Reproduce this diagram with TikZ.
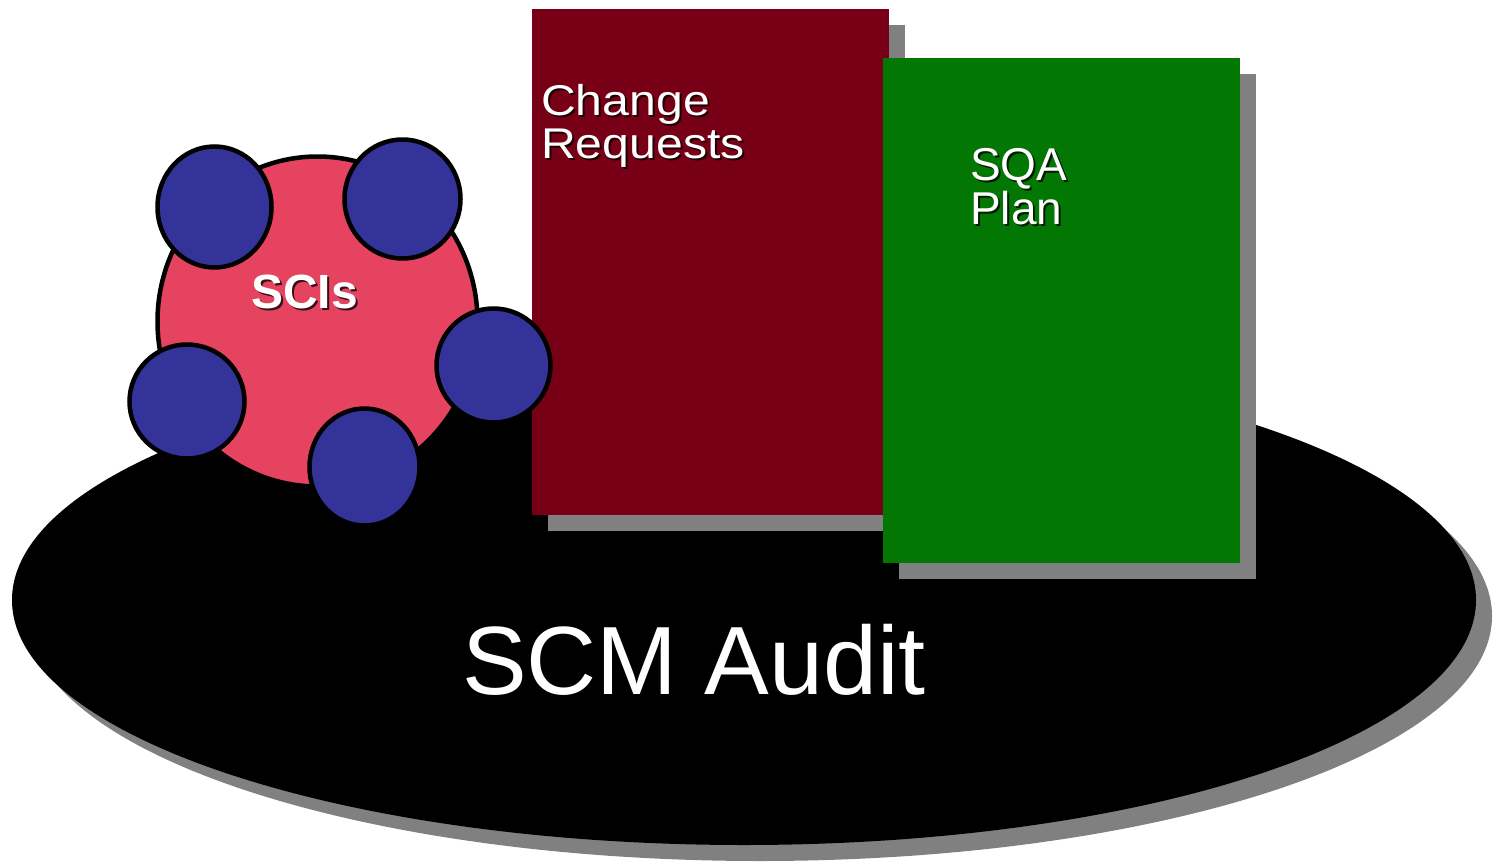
\documentclass[tikz,border=0pt]{standalone}
\usepackage{fontspec}
\setmainfont{Liberation Sans}
\newfontfamily\widesans[FakeStretch=1.12]{Liberation Sans}
\definecolor{shadowgray}{RGB}{128,128,128}
\definecolor{crred}{RGB}{120,0,22}
\definecolor{sqagreen}{RGB}{3,119,3}
\definecolor{sciPink}{RGB}{229,67,95}
\definecolor{sciBlue}{RGB}{52,51,153}
\begin{document}
\begin{tikzpicture}[x=1pt,y=-1pt,
  shade/.style={fill=shadowgray},
  item/.style={fill=sciBlue,draw=black,line width=4.5pt},
  label/.style={text=white,inner sep=0pt,anchor=base west},
  labelshadow/.style={text=black,opacity=0.75,inner sep=0pt,anchor=base west},
  crtext/.style={font=\widesans\fontsize{43}{46}\selectfont},
  sqatext/.style={font=\fontsize{46}{48}\selectfont},
  scitext/.style={font=\bfseries\fontsize{48}{50}\selectfont}]
\useasboundingbox (0,0) rectangle (1502,862);
\fill[white] (0,0) rectangle (1502,862);

% audit platter
\fill[shade] (760,616) ellipse [x radius=732pt, y radius=245pt];
\fill[black] (744,600) ellipse [x radius=732pt, y radius=245pt];
\node[label,font=\fontsize{97}{100}\selectfont] (audit) at (462,694) {SCM Audit};

% change requests sheet
\fill[shade] (548,25) rectangle (905,531);
\fill[crred] (532,9) rectangle (889,515);
\node[labelshadow,crtext] (cr1s) at (543,117) {Change};
\node[labelshadow,crtext] (cr2s) at (543,160) {Requests};
\node[label,crtext] (cr1) at (541,115) {Change};
\node[label,crtext] (cr2) at (541,158) {Requests};

% SQA plan sheet
\fill[shade] (899,74) rectangle (1256,579);
\fill[sqagreen] (883,58) rectangle (1240,563);
\node[labelshadow,sqatext] (sqa1s) at (972,182) {SQA};
\node[labelshadow,sqatext] (sqa2s) at (972,226) {Plan};
\node[label,sqatext] (sqa1) at (970,180) {SQA};
\node[label,sqatext] (sqa2) at (970,224) {Plan};

% configuration items
\filldraw[fill=sciPink,draw=black,line width=4.5pt] (317.5,321.5) ellipse [x radius=160pt, y radius=165pt];
\path[item] (214.5,207) ellipse [x radius=57pt, y radius=60.5pt];
\path[item] (402.5,199) ellipse [x radius=58pt, y radius=59.5pt];
\path[item] (493.5,365.5) ellipse [x radius=57pt, y radius=57pt];
\path[item] (364.5,467) ellipse [x radius=55pt, y radius=58.5pt];
\path[item] (187,401.5) ellipse [x radius=57.5pt, y radius=57pt];
\node[labelshadow,scitext] (scis) at (253,310) {SCIs};
\node[label,scitext] (sci) at (251,308) {SCIs};
\end{tikzpicture}
\end{document}
